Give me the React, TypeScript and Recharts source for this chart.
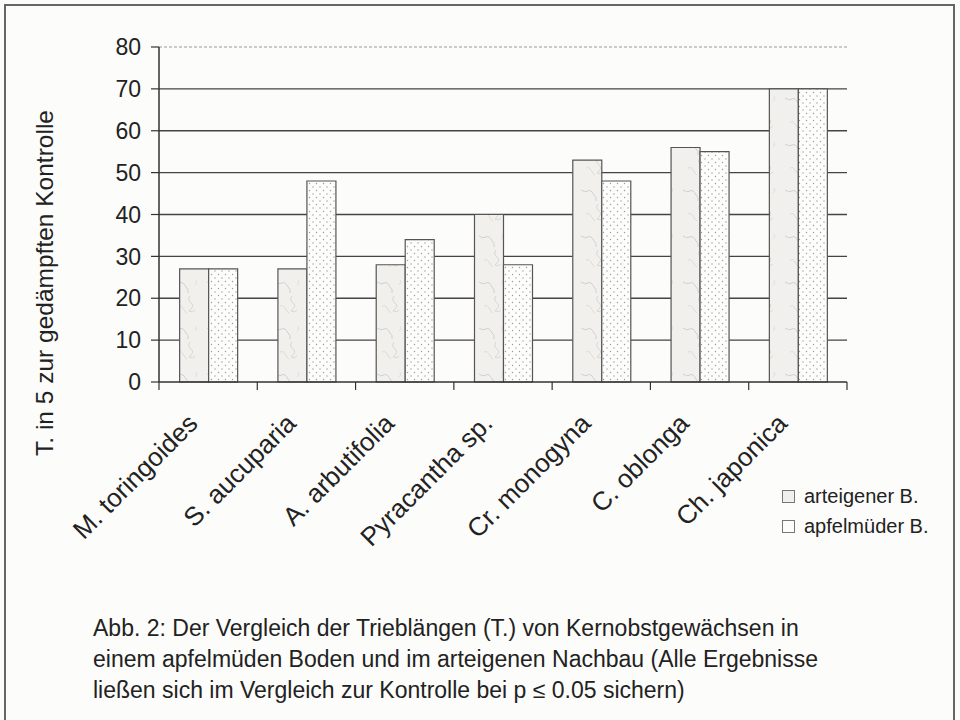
import { Bar, BarChart, CartesianGrid, ReferenceLine, XAxis, YAxis } from 'recharts';

const species = [
  'M. toringoides',
  'S. aucuparia',
  'A. arbutifolia',
  'Pyracantha sp.',
  'Cr. monogyna',
  'C. oblonga',
  'Ch. japonica',
];
const arteigener = [27, 27, 28, 40, 53, 56, 70];
const apfelmuede = [27, 48, 34, 28, 48, 55, 70];
const yTicks = [0, 10, 20, 30, 40, 50, 60, 70, 80];
const gridValues = [10, 20, 30, 40, 50, 60, 70];

const data = species.map((name, i) => ({
  name,
  arteigener: arteigener[i],
  apfelmuede: apfelmuede[i],
}));

const FONT = '"Liberation Sans", Arial, Helvetica, sans-serif';
const BAND = (847 - 159) / species.length;

function SpeciesTick({ x, y, payload, index }: any) {
  const half = BAND / 2;
  const ax = x - 9;
  const ay = y + 43;
  return (
    <g>
      <line x1={x - half} y1={y} x2={x - half} y2={y + 8} stroke="#333" strokeWidth={1.2} />
      {index === species.length - 1 && (
        <line x1={x + half} y1={y} x2={x + half} y2={y + 8} stroke="#333" strokeWidth={1.2} />
      )}
      <text
        x={ax}
        y={ay}
        transform={`rotate(-45, ${ax}, ${ay})`}
        textAnchor="end"
        fontSize={26}
        fontFamily={FONT}
        fill="#222"
      >
        {payload.value}
      </text>
    </g>
  );
}

export default function App() {
  return (
    <div
      style={{
        position: 'fixed',
        left: 0,
        top: 0,
        width: 960,
        height: 720,
        background: '#fcfcfa',
        fontFamily: FONT,
        overflow: 'hidden',
      }}
    >
      <div
        style={{
          position: 'absolute',
          left: 4,
          top: 4,
          width: 947,
          height: 740,
          border: '2px solid #666',
        }}
      />
      <BarChart
        width={960}
        height={720}
        data={data}
        margin={{ top: 47, right: 113, left: 99, bottom: 288 }}
        barCategoryGap="21%"
        barGap={0}
      >
        <defs>
          <pattern id="marble" width="34" height="46" patternUnits="userSpaceOnUse">
            <rect width="34" height="46" fill="#f1f0ed" />
            <path d="M3 6 q4 3 7 1 t6 4 q3 2 2 6" stroke="#c6c6c4" strokeWidth="0.8" fill="none" />
            <path d="M20 20 q-3 4 1 7 t-2 8 q4 2 6 -1" stroke="#cfcfcd" strokeWidth="0.8" fill="none" />
            <path d="M8 30 q3 -2 5 2 t4 5" stroke="#d2d2d0" strokeWidth="0.7" fill="none" />
            <path d="M26 4 q2 3 -1 5" stroke="#d6d6d4" strokeWidth="0.7" fill="none" />
          </pattern>
          <pattern id="dots" width="7" height="7" patternUnits="userSpaceOnUse">
            <rect width="7" height="7" fill="#fdfdfb" />
            <circle cx="1.5" cy="1.5" r="0.7" fill="#9a9a9a" />
            <circle cx="5" cy="5" r="0.7" fill="#9a9a9a" />
          </pattern>
        </defs>
        <CartesianGrid vertical={false} horizontalValues={gridValues} stroke="#444" strokeWidth={1.3} yAxisId="l" />
        <XAxis
          dataKey="name"
          height={50}
          tickSize={0}
          tickMargin={0}
          interval={0}
          tick={<SpeciesTick />}
          axisLine={{ stroke: '#333', strokeWidth: 1.5 }}
        />
        <YAxis
          yAxisId="l"
          width={60}
          domain={[0, 80]}
          ticks={yTicks}
          tickSize={8}
          tickMargin={10}
          tick={{ fontSize: 23, fill: '#222', fontFamily: FONT }}
          axisLine={{ stroke: '#333', strokeWidth: 1.5 }}
          tickLine={{ stroke: '#333', strokeWidth: 1.2 }}
        />
        <YAxis
          yAxisId="r"
          orientation="right"
          width={0}
          domain={[0, 80]}
          tick={false}
          tickLine={false}
          axisLine={{ stroke: '#999', strokeDasharray: '3 2' }}
        />
        <ReferenceLine yAxisId="l" y={80} stroke="#999" strokeDasharray="3 2" />
        <Bar
          yAxisId="l"
          dataKey="arteigener"
          fill="url(#marble)"
          stroke="#555"
          strokeWidth={1.2}
          isAnimationActive={false}
        />
        <Bar
          yAxisId="l"
          dataKey="apfelmuede"
          fill="url(#dots)"
          stroke="#555"
          strokeWidth={1.2}
          isAnimationActive={false}
        />
      </BarChart>
      <div
        style={{
          position: 'absolute',
          left: 45,
          top: 283,
          transform: 'translate(-50%, -50%) rotate(-90deg)',
          whiteSpace: 'nowrap',
          fontSize: 24.5,
          color: '#222',
        }}
      >
        T. in 5 zur gedämpften Kontrolle
      </div>
      <div style={{ position: 'absolute', left: 782, top: 481, fontSize: 20, color: '#222', lineHeight: '30px' }}>
        {[
          { label: 'arteigener B.', fill: '#f1f0ed' },
          { label: 'apfelmüder B.', fill: '#fdfdfb' },
        ].map((item) => (
          <div key={item.label} style={{ display: 'flex', alignItems: 'center' }}>
            <span
              style={{
                display: 'inline-block',
                width: 11,
                height: 11,
                border: '1px solid #777',
                background: item.fill,
                marginRight: 9,
              }}
            />
            {item.label}
          </div>
        ))}
      </div>
      <div
        style={{
          position: 'absolute',
          left: 93,
          top: 613,
          fontSize: 23,
          lineHeight: '31px',
          color: '#222',
          whiteSpace: 'nowrap',
        }}
      >
        Abb. 2: Der Vergleich der Trieblängen (T.) von Kernobstgewächsen in
        <br />
        einem apfelmüden Boden und im arteigenen Nachbau (Alle Ergebnisse
        <br />
        ließen sich im Vergleich zur Kontrolle bei p ≤ 0.05 sichern)
      </div>
    </div>
  );
}
